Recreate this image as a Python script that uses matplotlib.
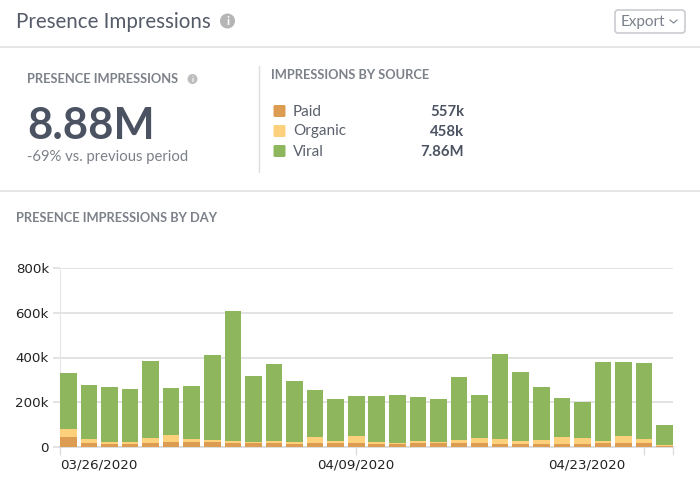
import matplotlib
matplotlib.use("Agg")
import matplotlib.pyplot as plt
from matplotlib.patches import FancyBboxPatch, Circle
from matplotlib.ticker import FuncFormatter
from matplotlib.transforms import ScaledTranslation
import numpy as np

# ---- data ----
paid = [46, 19, 13, 13, 19, 22, 22, 22, 19, 19, 19, 15, 16, 19, 19,
        13, 15, 19, 18, 19, 18, 15, 15, 15, 13, 13, 18, 19, 19, 5]
organic = [33, 18, 9, 9, 21, 30, 12, 9, 6, 3, 9, 9, 27, 9, 31,
           11, 3, 6, 6, 11, 22, 19, 13, 16, 32, 26, 10, 30, 18, 5]
viral = [250, 239, 246, 237, 344, 210, 237, 380, 581, 295, 341, 271, 212, 188, 179,
         205, 214, 197, 192, 284, 191, 383, 309, 237, 175, 161, 353, 332, 337, 87]
date_labels = ["03/26/2020", "04/09/2020", "04/23/2020"]
y_ticks = [0, 200, 400, 600, 800]
legend_names = ["Paid", "Organic", "Viral"]
legend_values = ["557k", "458k", "7.86M"]

C_PAID, C_ORG, C_VIRAL = "#DC9C52", "#FDD07C", "#8DB65D"
DARK, MID, GREY = "#4B5261", "#6F7480", "#7C8088"
LINE = "#E4E4E4"
SANS = "Lato"

W, H = 700, 499
fig = plt.figure(figsize=(W / 100, H / 100), dpi=100, facecolor="white")

# overlay in pixel coordinates for the page furniture
bg = fig.add_axes([0, 0, 1, 1])
bg.set_xlim(0, W)
bg.set_ylim(H, 0)
bg.axis("off")

for y in (47, 190.5):
    bg.plot([0, W], [y, y], color=LINE, lw=1.3, solid_capstyle="butt")
bg.plot([258.5, 258.5], [66, 172], color="#DDDDDD", lw=1)


def txt(x, y, s, size, color=DARK, weight="normal", ha="left"):
    bg.text(x, y, s, fontsize=size, color=color, fontweight=weight, ha=ha,
            va="center", family=SANS)


def info(x, y, r, color):
    bg.add_patch(Circle((x, y), r, color=color, lw=0))
    bg.text(x, y + 0.2, "i", fontsize=r * 1.15, color="white", fontweight="bold",
            ha="center", va="center", family=SANS)


txt(16, 22, "Presence Impressions", 14.8, "#555B68")
info(227.5, 21, 7.5, "#B5B5B5")

bg.add_patch(FancyBboxPatch((615, 10), 70, 23, boxstyle="round,pad=0,rounding_size=3",
                            fc="white", ec="#C9CCD0", lw=1.2))
txt(621, 21.5, "Export", 11, "#7A818C")
bg.plot([670, 673.5, 677], [20, 23, 20], color="#7A818C", lw=0.8)

txt(27, 79, "PRESENCE IMPRESSIONS", 9.3, GREY, "bold")
info(192.5, 79, 5, "#BDBDBD")
txt(27, 126, "8.88M", 31.3, DARK, "bold")
txt(27, 157, "-69% vs. previous period", 10.7, GREY)

txt(271, 75, "IMPRESSIONS BY SOURCE", 9.3, GREY, "bold")
for name, val, col, y in zip(legend_names, legend_values,
                             (C_PAID, C_ORG, C_VIRAL), (111, 131, 151)):
    bg.add_patch(FancyBboxPatch((273.5, y - 6), 12, 12,
                                boxstyle="round,pad=0,rounding_size=1.5",
                                fc=col, ec="none"))
    txt(293, y + 0.5, name, 11, "#5A606C")
    txt(464, y + 0.5, val, 10.7, DARK, "bold", ha="right")

txt(16, 218, "PRESENCE IMPRESSIONS BY DAY", 9.3, GREY, "bold")

# ---- chart ----
L, R, T, B = 60, 673, 268, 447
ax = fig.add_axes([L / W, 1 - B / H, (R - L) / W, (B - T) / H])
ax.patch.set_alpha(0)

bar_w = 0.81
x = np.arange(len(viral))
p = np.array(paid) * 1000.0
o = np.array(organic) * 1000.0
v = np.array(viral) * 1000.0
kw = dict(width=bar_w, linewidth=0, zorder=3)
ax.bar(x, p, color=C_PAID, **kw)
ax.bar(x, o, bottom=p, color=C_ORG, **kw)
ax.bar(x, v, bottom=p + o, color=C_VIRAL, **kw)

ax.set_xlim(-bar_w / 2, x[-1] + bar_w / 2)
ax.set_ylim(0, 800000)
ax.set_yticks([t * 1000 for t in y_ticks])
ax.yaxis.set_major_formatter(FuncFormatter(lambda val, _: "0" if val == 0 else f"{val / 1000:.0f}k"))
ax.grid(axis="y", color="#DEDEDE", lw=1.2, zorder=0)
ax.set_axisbelow(True)

for s in ("top", "right"):
    ax.spines[s].set_visible(False)
ax.spines["left"].set_color("#E6E6E6")
ax.spines["bottom"].set_color("#D8D8D8")
ax.spines["bottom"].set_linewidth(1.2)

ax.tick_params(axis="y", length=5, color="#DEDEDE", width=1.2, pad=3,
               labelsize=9.6, labelcolor="#222222")

tick_pos = [-bar_w / 2, 14, 28, x[-1] + bar_w / 2]
ax.set_xticks(tick_pos)
ax.set_xticklabels(date_labels + [""])
ax.tick_params(axis="x", length=5.5, color="#DDDDDD", width=1, pad=2.5,
               labelsize=9.6, labelcolor="#222222")
labels = ax.get_xticklabels()
labels[0].set_ha("left")
labels[2].set_ha("right")
labels[2].set_transform(labels[2].get_transform() + ScaledTranslation(-19 / 100, 0, fig.dpi_scale_trans))

fig.savefig("out.png", dpi=100, facecolor="white")
